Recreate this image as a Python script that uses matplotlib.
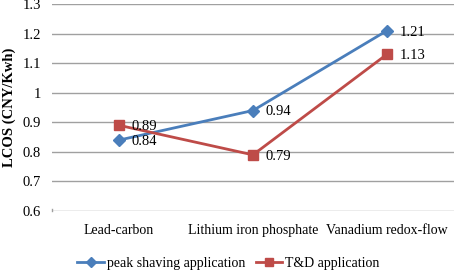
import matplotlib
matplotlib.use('Agg')
import matplotlib.pyplot as plt
from matplotlib.lines import Line2D

categories = ['Lead-carbon', 'Lithium iron phosphate', 'Vanadium redox-flow']
peak_shaving = [0.84, 0.94, 1.21]
td_app = [0.89, 0.79, 1.13]
y_ticks = [0.6, 0.7, 0.8, 0.9, 1.0, 1.1, 1.2, 1.3]
y_tick_labels = ['0.6', '0.7', '0.8', '0.9', '1', '1.1', '1.2', '1.3']

plt.rcParams['font.family'] = ['Liberation Serif', 'DejaVu Serif']

blue = '#4A7EBB'
red = '#BE4B48'
fs = 10.5

fig = plt.figure(figsize=(4.57, 2.73), dpi=100)
ax = fig.add_axes([0.114, 0.227, 0.879, 0.758])

x = list(range(len(categories)))
ax.plot(x, peak_shaving, color=blue, linewidth=2, marker='D', markersize=6,
        label='peak shaving application', zorder=3)
ax.plot(x, td_app, color=red, linewidth=2, marker='s', markersize=7,
        label='T&D application', zorder=3)

for xi, v in zip(x, peak_shaving):
    ax.annotate(f'{v:.2f}', (xi, v), xytext=(9, -1), textcoords='offset points',
                ha='left', va='center', fontsize=fs)
for xi, v in zip(x, td_app):
    ax.annotate(f'{v:.2f}', (xi, v), xytext=(9, -1), textcoords='offset points',
                ha='left', va='center', fontsize=fs)

ax.set_xlim(-0.5, len(categories) - 0.5)
ax.set_ylim(0.6, 1.3)
ax.set_yticks(y_ticks)
ax.set_yticklabels(y_tick_labels, fontsize=fs)
ax.set_xticks(x)
ax.set_xticklabels(categories, fontsize=10)
ax.tick_params(axis='y', length=0, pad=8)
ax.tick_params(axis='x', length=0, pad=9)
ax.grid(axis='y', color='#A0A0A0', linewidth=1)
ax.set_axisbelow(True)
for s in ax.spines.values():
    s.set_visible(False)
ax.plot([0, 0], [0, 0.012], transform=ax.transAxes, color='#A0A0A0',
        linewidth=1, clip_on=False)

ax.set_ylabel('LCOS (CNY/Kwh)', fontsize=fs, fontweight='bold', labelpad=5)

handles = [Line2D([0], [0], color=blue, linewidth=2, marker='D', markersize=5),
           Line2D([0], [0], color=red, linewidth=2, marker='s', markersize=6)]
fig.legend(handles, ['peak shaving application', 'T&D application'],
           loc='center', bbox_to_anchor=(0.5, 0.035), ncol=2, frameon=False,
           fontsize=10, handlelength=1.9, columnspacing=0.8, handletextpad=0.2)

fig.savefig('out.png', dpi=100)
